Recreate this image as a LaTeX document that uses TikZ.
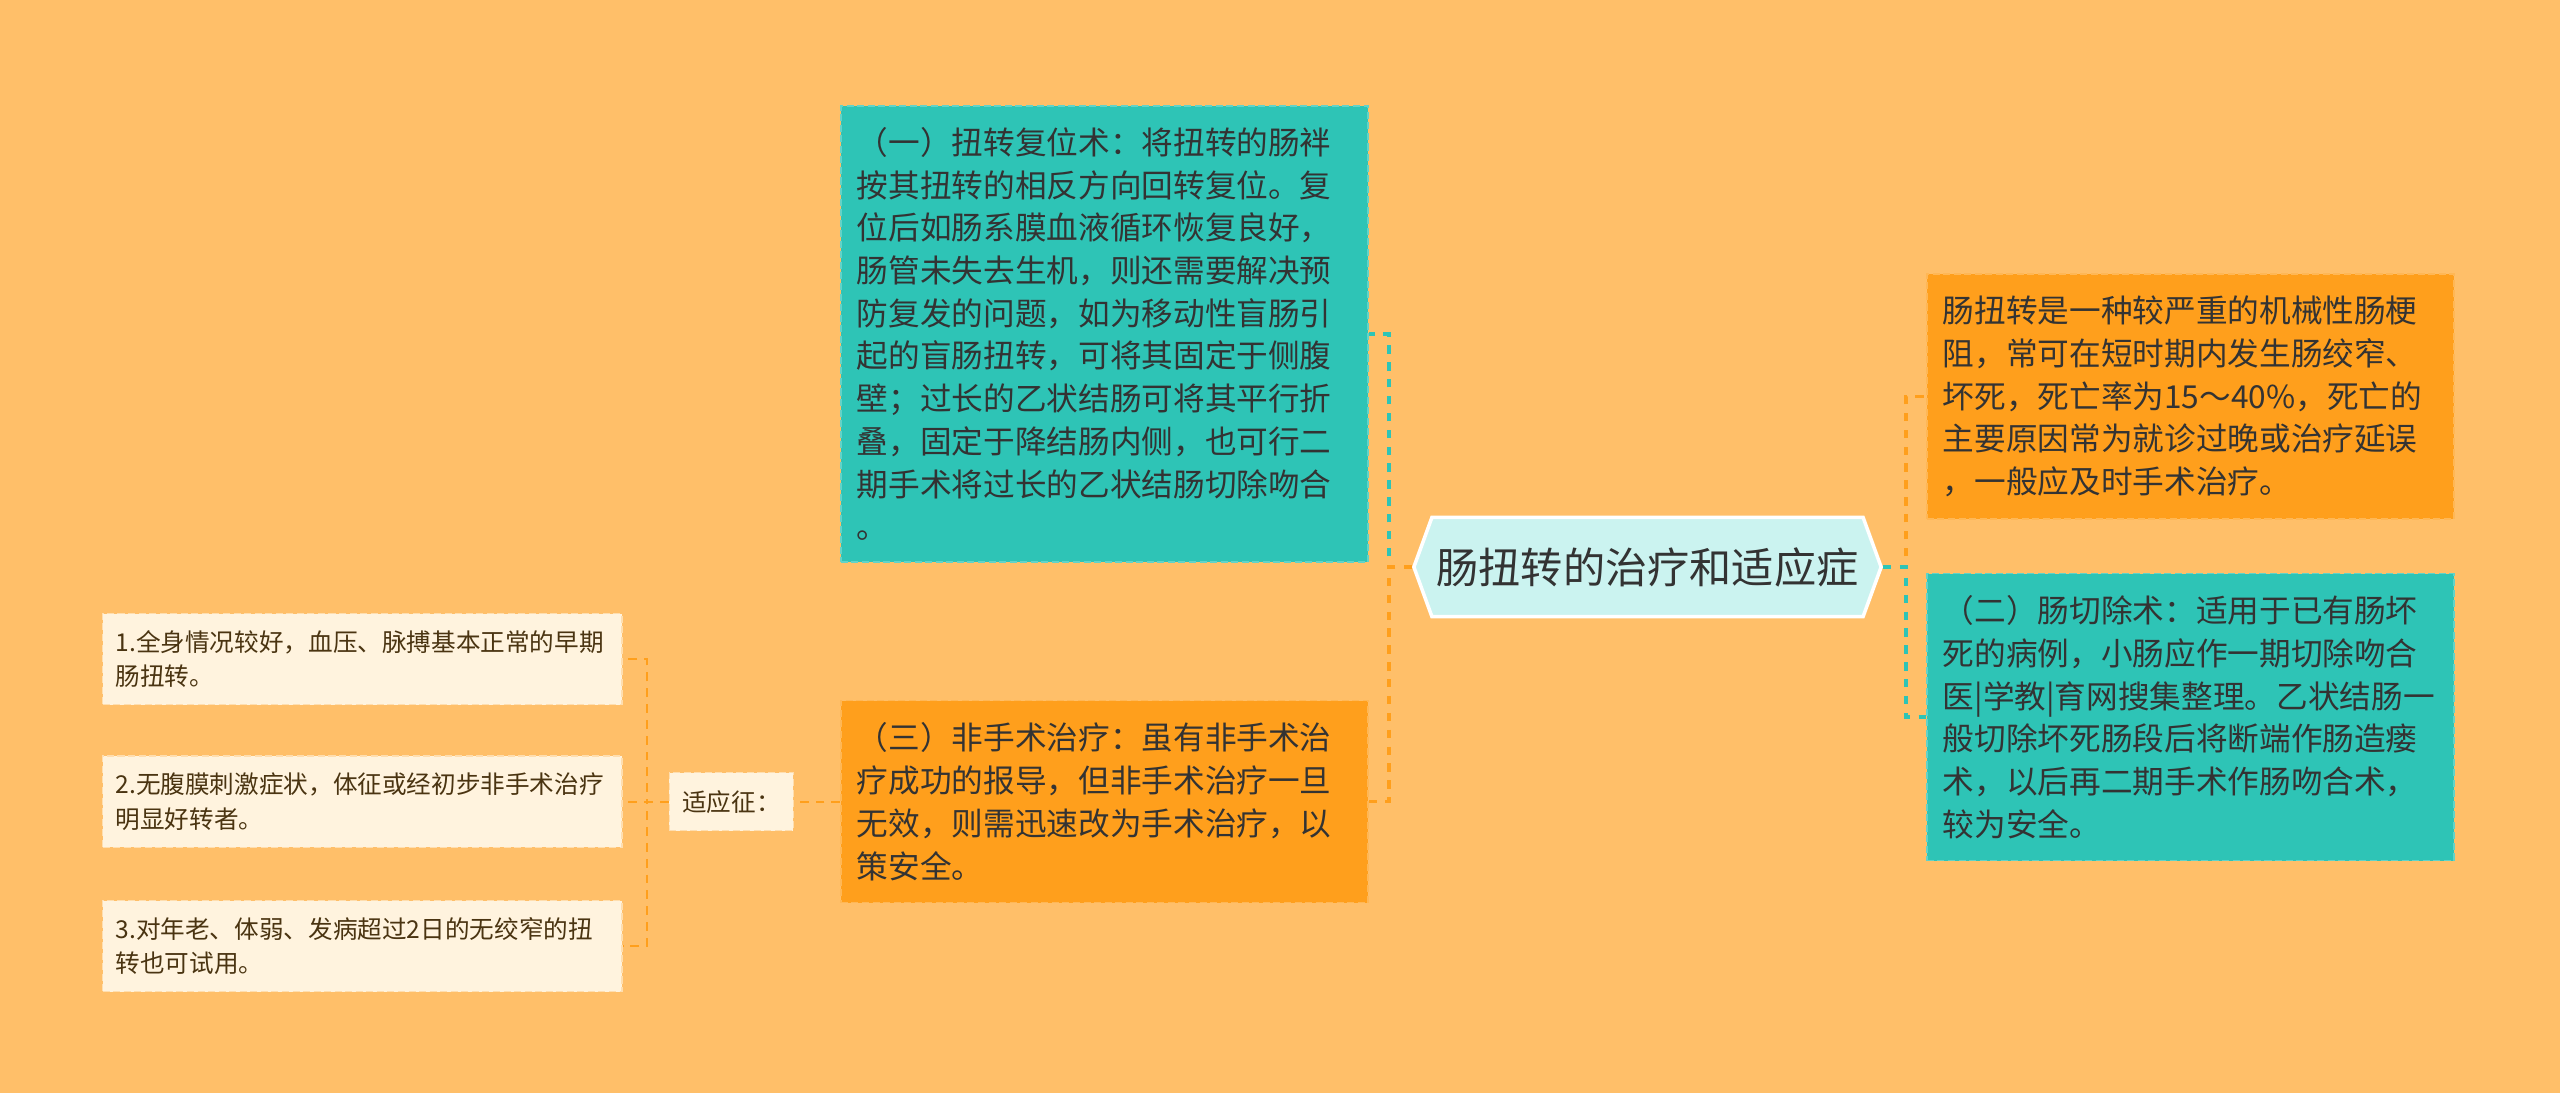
\documentclass[tikz,border=0pt]{standalone}
\usepackage{fontspec}
\setmainfont{Noto Sans CJK SC}
\usetikzlibrary{positioning,shapes.symbols}

\definecolor{bgorange}{HTML}{FFBF69}
\definecolor{tealbox}{HTML}{2EC4B6}
\definecolor{orangebox}{HTML}{FF9F1C}
\definecolor{rootfill}{HTML}{CBF3F0}
\definecolor{lightbox}{HTML}{FFF3DE}
\definecolor{textdark}{HTML}{333333}
\definecolor{textbrown}{HTML}{4A3411}

\begin{document}
\begin{tikzpicture}[
    x=0.01cm, y=-0.01cm,
    rootnode/.style={signal, signal to=west and east, signal pointer angle=140, draw=white, line width=1pt, fill=rootfill, minimum width=4.67cm, minimum height=0.99cm, inner sep=0pt, font=\fontsize{12pt}{14pt}\selectfont, text=textdark},
    card/.style={rectangle, dash pattern=on 2pt off 1pt, line width=0.4pt, text width=4.95cm, inner xsep=0.16cm, inner ysep=0pt, align=left, font=\fontsize{9pt}{12.15pt}\selectfont, text=textdark},
    tealcard/.style={card, fill=tealbox, draw=tealbox!75!white},
    orangecard/.style={card, fill=orangebox, draw=orangebox!75!white},
    notecard/.style={rectangle, fill=lightbox, draw=lightbox!60!bgorange, dash pattern=on 2pt off 1pt, line width=0.4pt, text width=4.93cm, inner xsep=0.13cm, inner ysep=0pt, minimum height=0.91cm, align=left, font=\fontsize{7pt}{9.7pt}\selectfont, text=textbrown},
    tagcard/.style={rectangle, fill=lightbox, draw=lightbox!60!bgorange, dash pattern=on 2pt off 1pt, line width=0.4pt, minimum width=1.24cm, minimum height=0.58cm, inner sep=0pt, font=\fontsize{7pt}{9pt}\selectfont, text=textbrown},
    tealline/.style={draw=tealbox, line width=1pt, dash pattern=on 2.4pt off 2.4pt},
    orangeline/.style={draw=orangebox, line width=1pt, dash pattern=on 2.4pt off 2.4pt},
    thinline/.style={draw=orangebox, line width=0.55pt, dash pattern=on 2.5pt off 2pt}
]

% === Background ===
\fill[bgorange] (0,0) rectangle (2560,1093);

% === Root ===
\node[rootnode] (root) at (1647.5,567) {肠扭转的治疗和适应症};

% === Left branch: treatments ===
\node[tealcard, minimum height=4.56cm] (reduce) at (1104.5,334) {（一）扭转复位术：将扭转的肠袢\\按其扭转的相反方向回转复位。复\\位后如肠系膜血液循环恢复良好，\\肠管未失去生机，则还需要解决预\\防复发的问题，如为移动性盲肠引\\起的盲肠扭转，可将其固定于侧腹\\壁；过长的乙状结肠可将其平行折\\叠，固定于降结肠内侧，也可行二\\期手术将过长的乙状结肠切除吻合\\。};
\node[orangecard, minimum height=2.02cm, below=1.37cm of reduce] (conserv) {（三）非手术治疗：虽有非手术治\\疗成功的报导，但非手术治疗一旦\\无效，则需迅速改为手术治疗，以\\策安全。};

% === Right branch ===
\node[orangecard, minimum height=2.45cm] (intro) at (2190.5,396.5) {肠扭转是一种较严重的机械性肠梗\\阻，常可在短时期内发生肠绞窄、\\坏死，死亡率为15～40\%，死亡的\\主要原因常为就诊过晚或治疗延误\\，一般应及时手术治疗。};
\node[tealcard, minimum height=2.87cm, below=0.53cm of intro] (resect) {（二）肠切除术：适用于已有肠坏\\死的病例，小肠应作一期切除吻合\\医|学教|育网搜集整理。乙状结肠一\\般切除坏死肠段后将断端作肠造瘘\\术，以后再二期手术作肠吻合术，\\较为安全。};

% === Indications ===
\node[tagcard, left=0.46cm of conserv] (indic) {适应征：};
\node[notecard, left=0.46cm of indic] (cond2) {2.无腹膜刺激症状，体征或经初步非手术治疗\\明显好转者。};
\node[notecard, above=0.50cm of cond2] (cond1) {1.全身情况较好，血压、脉搏基本正常的早期\\肠扭转。};
\node[notecard, below=0.52cm of cond2] (cond3) {3.对年老、体弱、发病超过2日的无绞窄的扭\\转也可试用。};

% === Connectors ===
\draw[tealline] (root.west) -- ++(-23,0) |- (reduce.east);
\draw[orangeline] (root.west) -- ++(-23,0) |- (conserv.east);
\draw[orangeline] (root.east) -- ++(23,0) |- (intro.west);
\draw[tealline] (root.east) -- ++(23,0) |- (resect.west);

\draw[thinline] (conserv.west) -- (indic.east);
\draw[thinline] (indic.west) -- ++(-22,0) |- (cond1.east);
\draw[thinline] (indic.west) -- ++(-22,0) |- (cond2.east);
\draw[thinline] (indic.west) -- ++(-22,0) |- (cond3.east);

\end{tikzpicture}
\end{document}
